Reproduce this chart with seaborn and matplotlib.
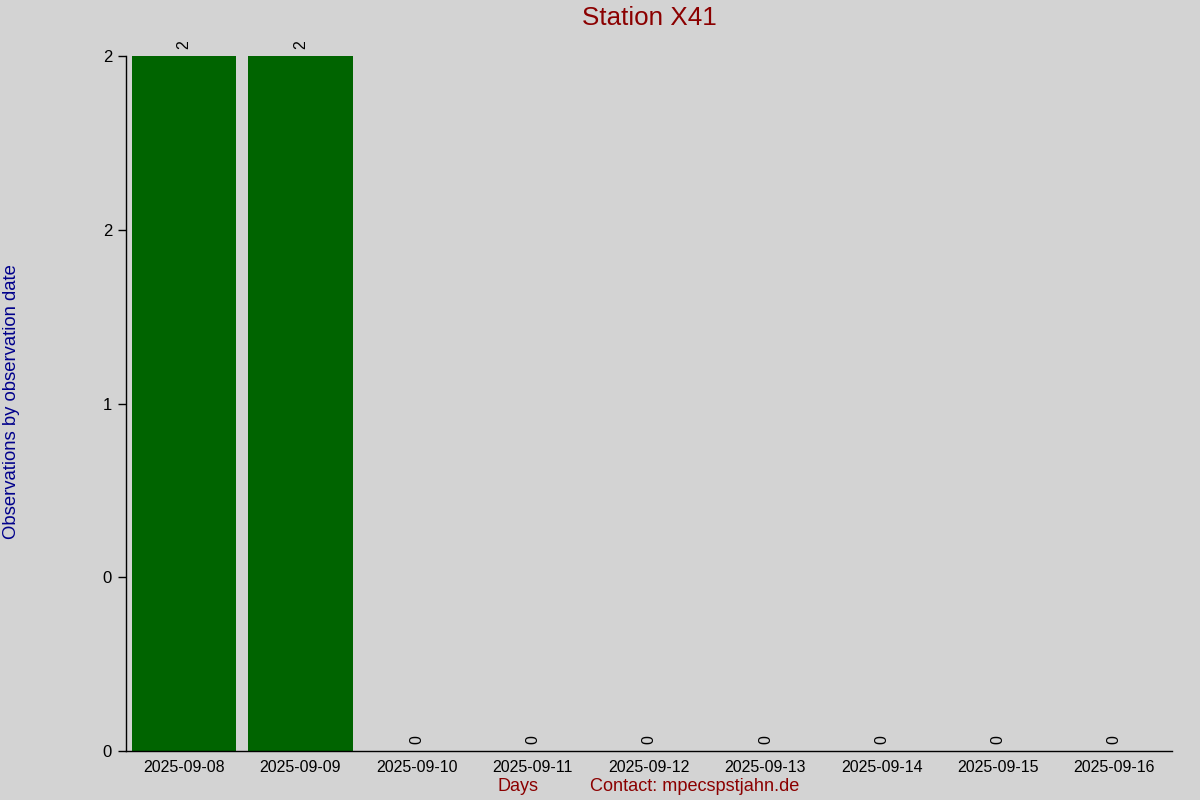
import matplotlib
matplotlib.use("Agg")
import matplotlib.pyplot as plt
from matplotlib.ticker import FormatStrFormatter
import seaborn as sns

# observations per day
days = ["2025-09-08", "2025-09-09", "2025-09-10", "2025-09-11", "2025-09-12",
        "2025-09-13", "2025-09-14", "2025-09-15", "2025-09-16"]
counts = [2, 2, 0, 0, 0, 0, 0, 0, 0]
yticks = [0, 0.5, 1, 1.5, 2]

sns.set_theme(style="ticks")
plt.rcParams['font.family'] = ['Liberation Sans', 'DejaVu Sans']

bg = "#d3d3d3"
fig = plt.figure(figsize=(12, 8), dpi=100, facecolor=bg)
ax = fig.add_axes([0.105, 0.061, 0.872, 0.869])
ax.set_facecolor(bg)

sns.barplot(x=days, y=counts, color="#006400", saturation=1, width=0.9,
            linewidth=0, edgecolor="none", ax=ax)

ax.bar_label(ax.containers[0], labels=[str(c) for c in counts],
             rotation=90, padding=5, fontsize=11.5, color="black")

ax.set_xlim(-0.5, len(days) - 0.5)
ax.set_ylim(0, 2)
ax.set_yticks(yticks)
ax.yaxis.set_major_formatter(FormatStrFormatter('%.0f'))
ax.tick_params(axis="y", length=6, width=1, color="black", labelsize=12, labelcolor="black", pad=4)
ax.tick_params(axis="x", length=0, labelsize=11.5, labelcolor="black", pad=6)

for s in ["top", "right"]:
    ax.spines[s].set_visible(False)
for s in ["left", "bottom"]:
    ax.spines[s].set_color("black")
    ax.spines[s].set_linewidth(1)

ax.set_xlabel("")
ax.set_ylabel("")

fig.text(0.541, 0.978, "Station X41", color="#8b0000", fontsize=18.7,
         ha="center", va="center")
fig.text(0.01, 0.4975, "Observations by observation date", rotation=90,
         color="#00008b", fontsize=13.3, ha="center", va="center")
fig.text(0.432, 0.017, "Days", color="#8b0000", fontsize=13, ha="center", va="center")
fig.text(0.4915, 0.017, "Contact: mpecspstjahn.de", color="#8b0000", fontsize=13.1,
         ha="left", va="center")

fig.savefig("out.png", dpi=100, facecolor=bg)
